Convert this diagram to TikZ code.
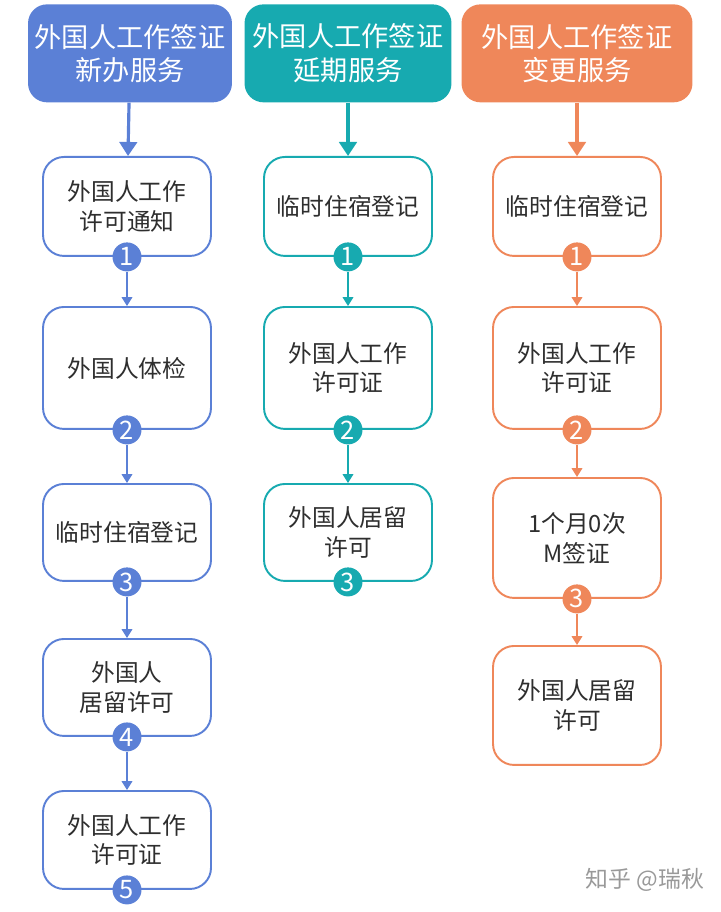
\documentclass[tikz,border=0pt]{standalone}
\usepackage{fontspec}
\setmainfont{Noto Sans CJK SC}
\usetikzlibrary{arrows.meta}

\definecolor{cblue}{HTML}{5B80D6}
\definecolor{cteal}{HTML}{17AAB0}
\definecolor{corange}{HTML}{EF875A}

\begin{document}
\begin{tikzpicture}
  [x=0.02cm,y=-0.02cm,
   hd/.style={rounded corners=0.38cm,text=white,align=center,
      font=\fontsize{15.5}{19}\selectfont,
      minimum height=1.96cm,anchor=north},
   bx/.style={draw,line width=1.1pt,rounded corners=0.42cm,fill=white,
      text=black!82,align=center,font=\fontsize{13.5}{17}\selectfont,
      minimum width=3.36cm,anchor=north},
   num/.style={circle,inner sep=0pt,minimum size=0.58cm,text=white,
      font=\fontsize{14.5}{14.5}\selectfont},
   big/.style={-{Triangle[length=8pt,width=10pt]},line width=1.8pt},
   sm/.style={-{Triangle[length=5pt,width=6pt]},line width=0.9pt}]
  \useasboundingbox (0,0) rectangle (720,912);

  % new application
  \node[hd,fill=cblue,minimum width=4.08cm] (h1) at (130,4)
    {外国人工作签证\\新办服务};
  \node[bx,draw=cblue,minimum height=1.98cm] (a1) at (127,156)
    {外国人工作\\许可通知};
  \node[bx,draw=cblue,minimum height=2.44cm] (a2) at (127,306)
    {外国人体检};
  \node[bx,draw=cblue,minimum height=1.94cm] (a3) at (127,483)
    {临时住宿登记};
  \node[bx,draw=cblue,minimum height=1.94cm] (a4) at (127,638)
    {外国人\\居留许可};
  \node[bx,draw=cblue,minimum height=1.96cm] (a5) at (127,790)
    {外国人工作\\许可证};
  \node[num,fill=cblue] (n1) at (a1.south) {1};
  \node[num,fill=cblue] (n2) at (a2.south) {2};
  \node[num,fill=cblue] (n3) at (a3.south) {3};
  \node[num,fill=cblue] (n4) at (a4.south) {4};
  \node[num,fill=cblue] (n5) at (a5.south) {5};
  \draw[big,cblue] (h1) -- (a1);
  \draw[sm,cblue] (n1) -- (a2);
  \draw[sm,cblue] (n2) -- (a3);
  \draw[sm,cblue] (n3) -- (a4);
  \draw[sm,cblue] (n4) -- (a5);

  % extension
  \node[hd,fill=cteal,minimum width=4.14cm] (h2) at (348,4)
    {外国人工作签证\\延期服务};
  \node[bx,draw=cteal,minimum height=1.98cm] (b1) at (348,156)
    {临时住宿登记};
  \node[bx,draw=cteal,minimum height=2.44cm] (b2) at (348,306)
    {外国人工作\\许可证};
  \node[bx,draw=cteal,minimum height=1.94cm] (b3) at (348,483)
    {外国人居留\\许可};
  \node[num,fill=cteal] (m1) at (b1.south) {1};
  \node[num,fill=cteal] (m2) at (b2.south) {2};
  \node[num,fill=cteal] (m3) at (b3.south) {3};
  \draw[big,cteal] (h2) -- (b1);
  \draw[sm,cteal] (m1) -- (b2);
  \draw[sm,cteal] (m2) -- (b3);

  % change
  \node[hd,fill=corange,minimum width=4.62cm] (h3) at (577,4)
    {外国人工作签证\\变更服务};
  \node[bx,draw=corange,minimum height=1.98cm] (c1) at (577,156)
    {临时住宿登记};
  \node[bx,draw=corange,minimum height=2.44cm] (c2) at (577,306)
    {外国人工作\\许可证};
  \node[bx,draw=corange,minimum height=2.4cm] (c3) at (577,477)
    {1个月0次\\M签证};
  \node[bx,draw=corange,minimum height=2.38cm] (c4) at (577,645)
    {外国人居留\\许可};
  \node[num,fill=corange] (k1) at (c1.south) {1};
  \node[num,fill=corange] (k2) at (c2.south) {2};
  \node[num,fill=corange] (k3) at (c3.south) {3};
  \draw[big,corange] (h3) -- (c1);
  \draw[sm,corange] (k1) -- (c2);
  \draw[sm,corange] (k2) -- (c3);
  \draw[sm,corange] (k3) -- (c4);

  \node[text=black!40,font=\fontsize{13}{13}\selectfont] (wm) at (645,880)
    {知乎 @瑞秋};
\end{tikzpicture}
\end{document}
